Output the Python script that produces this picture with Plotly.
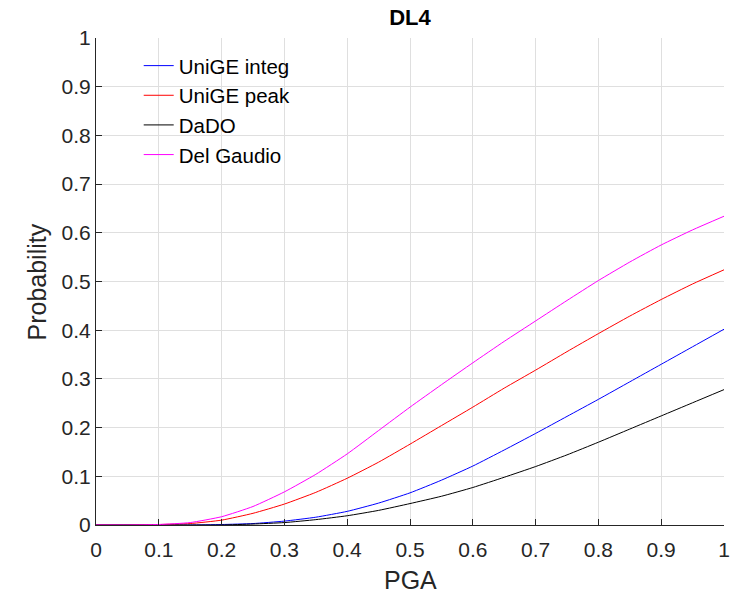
import plotly.graph_objects as go

pga = [0.00, 0.05, 0.10, 0.15, 0.20, 0.25, 0.30, 0.35, 0.40, 0.45, 0.50,
       0.55, 0.60, 0.65, 0.70, 0.75, 0.80, 0.85, 0.90, 0.95, 1.00]

unige_integ = [0.000, 0.000, 0.000, 0.000, 0.001, 0.003, 0.008, 0.016, 0.028, 0.045, 0.066,
               0.092, 0.121, 0.154, 0.188, 0.223, 0.258, 0.294, 0.330, 0.366, 0.402]
unige_peak = [0.000, 0.000, 0.001, 0.003, 0.010, 0.024, 0.043, 0.067, 0.096, 0.129, 0.166,
              0.204, 0.242, 0.281, 0.318, 0.356, 0.393, 0.429, 0.463, 0.495, 0.524]
dado = [0.000, 0.000, 0.000, 0.000, 0.000, 0.002, 0.005, 0.011, 0.019, 0.030, 0.044,
        0.059, 0.077, 0.098, 0.120, 0.144, 0.170, 0.197, 0.224, 0.251, 0.278]
del_gaudio = [0.000, 0.000, 0.001, 0.005, 0.017, 0.038, 0.068, 0.104, 0.146, 0.194, 0.242,
              0.288, 0.333, 0.377, 0.419, 0.461, 0.502, 0.540, 0.575, 0.606, 0.634]

series_names = ["UniGE integ", "UniGE peak", "DaDO", "Del Gaudio"]
series_colors = ["#0000ff", "#ff0000", "#000000", "#ff00ff"]
series_values = [unige_integ, unige_peak, dado, del_gaudio]

x_ticks = [0, 0.1, 0.2, 0.3, 0.4, 0.5, 0.6, 0.7, 0.8, 0.9, 1]
x_tick_labels = ["0", "0.1", "0.2", "0.3", "0.4", "0.5", "0.6", "0.7", "0.8", "0.9", "1"]
y_ticks = [0, 0.1, 0.2, 0.3, 0.4, 0.5, 0.6, 0.7, 0.8, 0.9, 1]
y_tick_labels = ["0", "0.1", "0.2", "0.3", "0.4", "0.5", "0.6", "0.7", "0.8", "0.9", "1"]

FONT = "Liberation Sans, Arial, Helvetica, sans-serif"
AX = "#262626"
GRID = "#dfdfdf"

fig = go.Figure()
for name, color, vals in zip(series_names, series_colors, series_values):
    fig.add_trace(go.Scatter(
        x=pga, y=vals, mode="lines", name=name,
        line=dict(color=color, width=1, shape="spline", smoothing=0.5),
    ))

axis_common = dict(
    showgrid=True, gridcolor=GRID, gridwidth=1,
    zeroline=False, showline=True, linecolor=AX, linewidth=1,
    ticks="inside", ticklen=6, tickcolor=AX, tickwidth=1,
    tickfont=dict(family=FONT, size=21, color=AX),
    automargin=False,
)

fig.update_layout(
    width=751, height=599,
    margin=dict(l=96, r=27, t=38, b=74),
    paper_bgcolor="white", plot_bgcolor="white",
    title=dict(text="<b>DL4</b>", x=(96 + 314) / 751, xanchor="center",
               y=1 - 17 / 599, yanchor="middle", yref="container",
               font=dict(family=FONT, size=22, color="#000000")),
    xaxis=dict(range=[0, 1], tickvals=x_ticks, ticktext=x_tick_labels,
               ticklabelstandoff=6, **axis_common),
    yaxis=dict(range=[0, 1], tickvals=y_ticks, ticktext=y_tick_labels, **axis_common),
    legend=dict(x=0.068, y=0.984, xanchor="left", yanchor="top",
                bgcolor="rgba(255,255,255,0)", borderwidth=0,
                font=dict(family=FONT, size=20.5, color="#000000"),
                tracegroupgap=0),
    showlegend=True,
    annotations=[
        dict(text="PGA", xref="paper", yref="paper", x=0.5, y=-55 / 487,
             xanchor="center", yanchor="middle", showarrow=False,
             font=dict(family=FONT, size=25, color=AX)),
        dict(text="Probability", xref="paper", yref="paper", x=-60 / 628, y=0.5,
             xanchor="center", yanchor="middle", showarrow=False, textangle=-90,
             font=dict(family=FONT, size=25, color=AX)),
    ],
)

fig.write_html("out.html", config={"displayModeBar": False},
               post_script="document.body.style.margin='0';")
